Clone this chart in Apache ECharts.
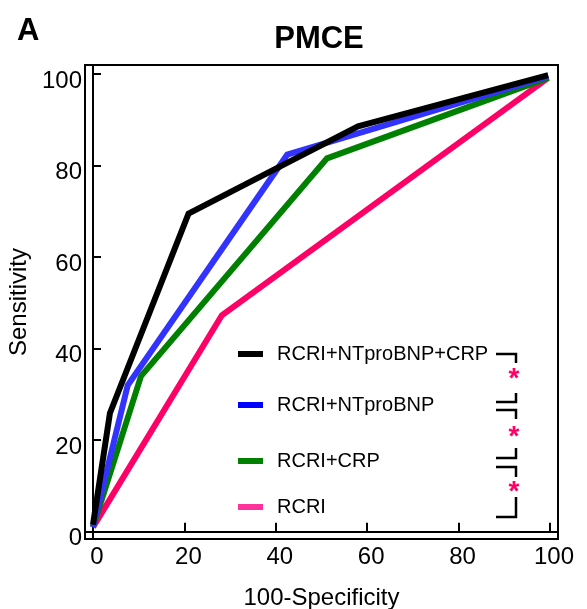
<!DOCTYPE html>
<html><head><meta charset="utf-8">
<script src="https://cdn.jsdelivr.net/npm/echarts@6/dist/echarts.min.js"></script>
<style>html,body{margin:0;padding:0;background:#fff}#c{width:587px;height:609px}</style>
</head><body><div id="c"></div>
<script>
const seriesNames = ['RCRI+NTproBNP+CRP', 'RCRI+NTproBNP', 'RCRI+CRP', 'RCRI'];
const lineColors = ['#000000', '#3333ff', '#008000', '#ff0066'];
const legendColors = ['#000000', '#0000ff', '#008000', '#ff3399'];
// [100-Specificity, Sensitivity]
const rcriNtCrp = [[0, 1.5], [3.7, 25.9], [20.9, 69.5], [58, 88.6], [99.6, 99.8]];
const rcriNt = [[0, 1], [7.6, 32], [42.5, 82.4], [99.6, 99.5]];
const rcriCrp = [[0, 1], [10.5, 34], [51.2, 81.6], [99.6, 99.2]];
const rcri = [[0, 1], [28.2, 47.3], [99.6, 99.2]];
const tickValues = [0, 20, 40, 60, 80, 100];

const chart = echarts.init(document.getElementById('c'));
const data = [rcriNtCrp, rcriNt, rcriCrp, rcri];
const font = 'Liberation Sans, Arial, sans-serif';
const series = [];
for (let i = 3; i >= 0; i--) {
  series.push({
    name: seriesNames[i], type: 'line', data: data[i], symbol: 'none',
    lineStyle: {color: lineColors[i], width: 6, join: 'miter'},
    itemStyle: {color: legendColors[i]}, z: 10 - i
  });
}
const legendY = [344, 395, 451, 497];
const legends = seriesNames.map((n, i) => ({
  data: [{name: n, itemStyle: {color: legendColors[i]}}],
  left: 238, top: legendY[i], itemWidth: 25, itemHeight: 6, itemGap: 10, padding: 0,
  icon: 'rect', selectedMode: false,
  textStyle: {fontFamily: font, fontSize: 20, color: '#000', padding: [0, 0, 0, 9]}
}));
const K = '#000';
function br(pts) { return {type: 'polyline', shape: {points: pts}, style: {stroke: K, lineWidth: 2.5, fill: null}, z: 100}; }
function star(x, y) { return {type: 'text', x: x, y: y, style: {text: '*', fill: '#ff0066', font: 'bold 28px ' + font, textAlign: 'center', textVerticalAlign: 'middle'}, z: 100}; }
chart.setOption({
  animation: false,
  title: [{text: 'PMCE', left: 314, top: 19, textAlign: 'center', textStyle: {fontFamily: font, fontSize: 31, fontWeight: 'bold', color: '#000'}},
          {text: 'A', left: 12, top: 11, textStyle: {fontFamily: font, fontSize: 31, fontWeight: 'bold', color: '#000'}}],
  legend: legends,
  grid: {left: 85, top: 65, width: 473, height: 474, show: true, borderColor: '#000', borderWidth: 2,
         containLabel: false, outerBoundsMode: 'none'},
  xAxis: {type: 'value', min: -1.75, max: 101.75,
    name: '100-Specificity', nameLocation: 'middle', nameGap: 47,
    nameTextStyle: {fontFamily: font, fontSize: 24, color: '#000'},
    axisLine: {show: true, lineStyle: {color: K, width: 2}},
    axisTick: {show: true, inside: true, length: 9, lineStyle: {color: K, width: 2}, customValues: tickValues},
    axisLabel: {fontFamily: font, fontSize: 24, color: '#000', margin: 6, padding: [0, 0, 0, 8], customValues: tickValues},
    splitLine: {show: false}},
  yAxis: {type: 'value', min: -1.6, max: 102,
    name: 'Sensitivity', nameLocation: 'middle', nameGap: 52,
    nameTextStyle: {fontFamily: font, fontSize: 24, color: '#000', padding: [0, 0, 0, 0]},
    axisLine: {show: true, lineStyle: {color: K, width: 2}},
    axisTick: {show: true, inside: true, length: 8, lineStyle: {color: K, width: 2}, customValues: tickValues},
    axisLabel: {fontFamily: font, fontSize: 24, color: '#000', margin: 3, verticalAlign: 'top', lineHeight: 14, customValues: tickValues},
    splitLine: {show: false}},
  series: series,
  graphic: [
    br([[496, 354], [516, 354], [516, 363]]),
    star(514, 379),
    br([[516, 393], [516, 402], [496, 402]]),
    br([[496, 410], [516, 410], [516, 419]]),
    star(514, 437),
    br([[516, 448], [516, 458], [496, 458]]),
    br([[496, 467], [516, 467], [516, 477]]),
    star(514, 492),
    br([[516, 497], [516, 517], [496, 517]])
  ]
});
</script></body></html>
